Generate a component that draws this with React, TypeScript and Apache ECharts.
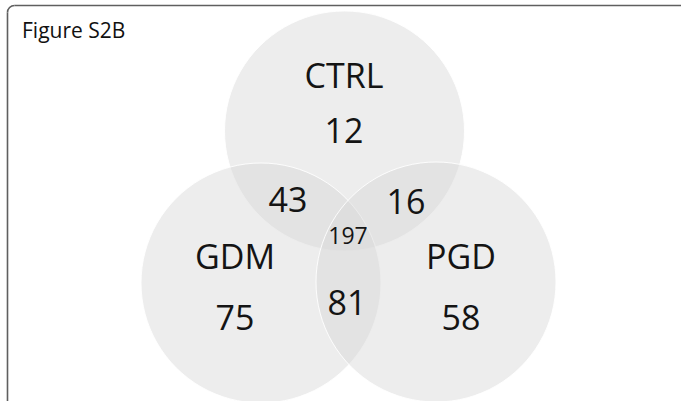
import React, { useEffect, useRef } from "react";
import * as echarts from "echarts";

// ---- data ----
const titleText = "Figure S2B";
const setNames = ["CTRL", "GDM", "PGD"];
const regionKeys = ["CTRL", "GDM", "PGD", "CTRL&GDM", "CTRL&PGD", "GDM&PGD", "CTRL&GDM&PGD"];
const regionCounts = [12, 75, 58, 43, 16, 81, 197];

// ---- layout (in hidden-axis units) ----
const circleCenters: Record<string, number[]> = {
  CTRL: [344.5, 131],
  GDM: [261, 283],
  PGD: [436, 282],
};
const circleRadius = 120;
const setLabelPos: Record<string, number[]> = {
  CTRL: [344, 75],
  GDM: [235, 256],
  PGD: [461, 256],
};
const regionLabelPos: Record<string, number[]> = {
  CTRL: [344, 130],
  GDM: [235, 317],
  PGD: [461, 317],
  "CTRL&GDM": [288, 199],
  "CTRL&PGD": [406, 201],
  "GDM&PGD": [347, 302],
  "CTRL&GDM&PGD": [348, 235],
};
const FONT = "'Open Sans', 'Noto Sans', sans-serif";

export default function App() {
  const ref = useRef<HTMLDivElement>(null);
  useEffect(() => {
    if (!ref.current) return;
    document.body.style.margin = "0";
    const chart = echarts.init(ref.current, undefined, { renderer: "svg" });

    const circleData = setNames.map((n) => [circleCenters[n][0], circleCenters[n][1], circleRadius]);
    const setLabelData = setNames.map((n) => ({ value: [setLabelPos[n][0], setLabelPos[n][1]], name: n, size: 34 }));
    const regionLabelData = regionKeys.map((k, i) => ({
      value: [regionLabelPos[k][0], regionLabelPos[k][1]],
      name: String(regionCounts[i]),
      size: k === "CTRL&GDM&PGD" ? 23 : 34,
    }));
    const labelData = [...setLabelData, ...regionLabelData];

    const borderStyle = { stroke: "#5f5f5f", lineWidth: 1.6, fill: "none" };
    const cr = 7;
    chart.setOption({
      animation: false,
      backgroundColor: "#ffffff",
      grid: { left: 0, right: 0, top: 0, bottom: 0 },
      xAxis: { type: "value", min: 0, max: 681, show: false },
      yAxis: { type: "value", min: 0, max: 401, inverse: true, show: false },
      graphic: [
        {
          type: "line",
          shape: { x1: 7.5, y1: 5.5 + cr, x2: 7.5, y2: 402 },
          style: borderStyle,
          silent: true,
        },
        {
          type: "line",
          shape: { x1: 7.5 + cr, y1: 5.5, x2: 682, y2: 5.5 },
          style: borderStyle,
          silent: true,
        },
        {
          type: "arc",
          shape: { cx: 7.5 + cr, cy: 5.5 + cr, r: cr, startAngle: Math.PI, endAngle: Math.PI * 1.5 },
          style: borderStyle,
          silent: true,
        },
        {
          type: "text",
          x: 22,
          y: 30,
          style: {
            text: titleText,
            fontSize: 21,
            fontFamily: FONT,
            fill: "#111",
            align: "left",
            verticalAlign: "middle",
          },
        },
      ],
      series: [
        {
          type: "custom",
          clip: false,
          data: circleData,
          renderItem: (params: any, api: any) => {
            const c = api.coord([api.value(0), api.value(1)]);
            const s = api.size([api.value(2), api.value(2)]);
            return {
              type: "circle",
              shape: { cx: c[0], cy: c[1], r: Math.abs(s[0]) },
              style: {
                fill: "rgba(214,214,214,0.45)",
                stroke: "rgba(255,255,255,0.9)",
                lineWidth: 1,
              },
            };
          },
        },
        {
          type: "custom",
          clip: false,
          data: labelData,
          renderItem: (params: any, api: any) => {
            const d = labelData[params.dataIndex];
            const c = api.coord([api.value(0), api.value(1)]);
            return {
              type: "text",
              x: c[0],
              y: c[1],
              style: {
                text: d.name,
                fontSize: d.size,
                fontFamily: FONT,
                fill: "#141414",
                align: "center",
                verticalAlign: "middle",
              },
            };
          },
        },
      ],
    });
    return () => chart.dispose();
  }, []);
  return <div ref={ref} style={{ position: "absolute", left: 0, top: 0, width: 681, height: 401 }} />;
}
